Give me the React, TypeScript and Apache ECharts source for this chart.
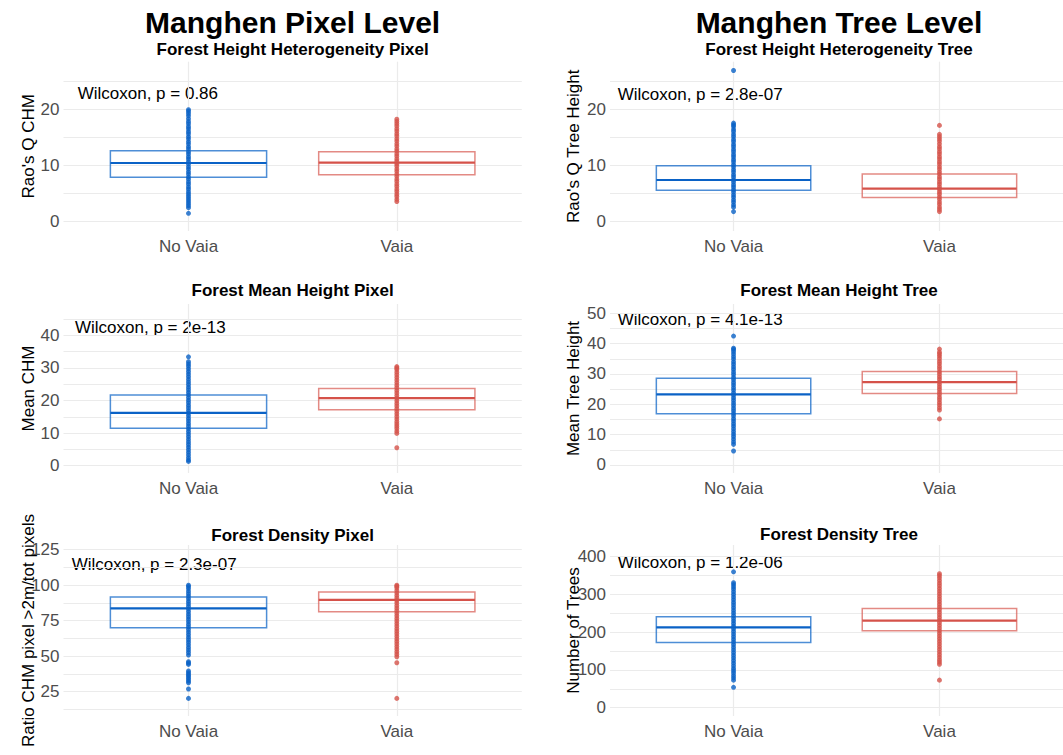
import { useEffect, useRef } from "react";
import * as echarts from "echarts";

const CATEGORIES = ["No Vaia", "Vaia"];
const GROUP_X = [1, 2];

// ---- Forest Height Heterogeneity Pixel (Rao's Q CHM)
const raoPixelNoVaia = [1.5, 2.5, 2.9, 3.3, 3.7, 4.1, 4.5, 4.9, 5.3, 5.8, 6.2, 6.7, 7.1, 7.6, 8.0, 8.5, 8.9, 9.4, 9.8, 10.3, 10.7, 11.2, 11.6, 12.1, 12.5, 13.0, 13.4, 13.9, 14.3, 14.8, 15.2, 15.7, 16.1, 16.6, 17.0, 17.5, 17.9, 18.4, 18.9, 19.3, 19.7, 20.0];
const raoPixelVaia = [3.6, 4.0, 4.5, 4.9, 5.4, 5.8, 6.3, 6.7, 7.2, 7.6, 8.1, 8.5, 9.0, 9.4, 9.9, 10.3, 10.8, 11.2, 11.7, 12.1, 12.6, 13.0, 13.5, 13.9, 14.4, 14.8, 15.3, 15.7, 16.2, 16.6, 17.1, 17.5, 17.9, 18.3];
const raoPixelBoxNoVaia = [7.93, 10.48, 12.68]; // Q1, median, Q3
const raoPixelBoxVaia = [8.39, 10.54, 12.5];

// ---- Forest Height Heterogeneity Tree (Rao's Q Tree Height)
const raoTreeNoVaia = [1.8, 2.6, 3.0, 3.5, 3.9, 4.4, 4.8, 5.3, 5.7, 6.2, 6.6, 7.1, 7.5, 8.0, 8.4, 8.9, 9.3, 9.8, 10.2, 10.7, 11.1, 11.6, 12.0, 12.5, 12.9, 13.4, 13.8, 14.3, 14.7, 15.2, 15.6, 16.1, 16.5, 17.0, 17.3, 17.6, 27.0];
const raoTreeVaia = [1.8, 2.2, 2.6, 3.1, 3.5, 4.0, 4.4, 4.9, 5.3, 5.8, 6.2, 6.7, 7.1, 7.6, 8.0, 8.5, 8.9, 9.4, 9.8, 10.3, 10.7, 11.2, 11.6, 12.1, 12.5, 13.0, 13.4, 13.9, 14.4, 14.8, 15.2, 15.6, 17.2];
const raoTreeBoxNoVaia = [5.6, 7.45, 10.0];
const raoTreeBoxVaia = [4.3, 5.9, 8.5];

// ---- Forest Mean Height Pixel (Mean CHM)
const meanPixelNoVaia = [1.3, 1.8, 2.5, 3.3, 4.1, 4.9, 5.7, 6.5, 7.3, 8.1, 8.9, 9.7, 10.5, 11.3, 12.1, 12.9, 13.7, 14.5, 15.3, 16.1, 16.9, 17.7, 18.5, 19.3, 20.1, 20.9, 21.7, 22.5, 23.3, 24.1, 24.9, 25.7, 26.5, 27.3, 28.1, 28.9, 29.7, 30.5, 31.2, 31.9, 33.4];
const meanPixelVaia = [5.5, 9.9, 10.6, 11.4, 12.1, 12.8, 13.5, 14.3, 15.1, 15.9, 16.7, 17.5, 18.3, 19.1, 19.9, 20.7, 21.5, 22.3, 23.1, 23.9, 24.7, 25.5, 26.3, 27.1, 27.9, 28.7, 29.5, 30.0, 30.4];
const meanPixelBoxNoVaia = [11.5, 16.2, 21.7];
const meanPixelBoxVaia = [17.2, 20.7, 23.7];

// ---- Forest Mean Height Tree (Mean Tree Height)
const meanTreeNoVaia = [4.6, 6.8, 7.6, 8.5, 9.4, 10.2, 11.0, 11.9, 12.8, 13.6, 14.5, 15.3, 16.2, 17.0, 17.9, 18.7, 19.6, 20.4, 21.3, 22.1, 23.0, 23.8, 24.7, 25.5, 26.4, 27.2, 28.1, 28.9, 29.8, 30.6, 31.5, 32.3, 33.2, 34.0, 34.9, 35.7, 36.6, 37.4, 38.1, 38.5, 42.5];
const meanTreeVaia = [15.2, 18.1, 18.9, 19.8, 20.6, 21.5, 22.3, 23.2, 24.0, 24.9, 25.7, 26.6, 27.4, 28.3, 29.1, 30.0, 30.8, 31.7, 32.5, 33.4, 34.2, 35.1, 35.9, 36.6, 37.2, 38.2];
const meanTreeBoxNoVaia = [16.9, 23.3, 28.6];
const meanTreeBoxVaia = [23.6, 27.3, 30.8];

// ---- Forest Density Pixel (Ratio CHM pixel >2m/tot pixels)
const densityPixelNoVaia = [20.3, 26.9, 31.3, 32.5, 33.7, 34.9, 36.1, 37.2, 38.4, 39.6, 44.2, 45.2, 46.1, 50.8, 52.6, 54.4, 56.2, 58.0, 59.8, 61.6, 63.4, 65.2, 67.0, 68.8, 70.6, 72.4, 74.2, 76.0, 77.8, 79.6, 81.4, 83.2, 85.0, 86.8, 88.6, 90.4, 92.2, 94.0, 95.8, 97.6, 99.0, 100.0];
const densityPixelVaia = [20.3, 45.4, 49.6, 51.4, 53.2, 55.0, 56.8, 58.6, 60.4, 62.2, 64.0, 65.8, 67.6, 69.4, 71.2, 73.0, 74.8, 76.6, 78.4, 80.2, 82.0, 83.8, 85.6, 87.4, 89.2, 91.0, 92.8, 94.6, 96.4, 98.2, 99.3, 100.0];
const densityPixelBoxNoVaia = [70.1, 83.7, 91.7];
const densityPixelBoxVaia = [81.3, 89.6, 95.2];

// ---- Forest Density Tree (Number of Trees)
const densityTreeNoVaia = [54, 73, 79, 85, 92, 98, 104, 111, 118, 125, 132, 139, 146, 153, 160, 167, 174, 181, 188, 195, 202, 209, 216, 223, 230, 237, 244, 251, 258, 265, 272, 279, 286, 293, 300, 307, 314, 320, 326, 331, 360];
const densityTreeVaia = [73, 115, 121, 127, 134, 141, 148, 155, 162, 169, 176, 183, 190, 197, 204, 211, 218, 225, 232, 239, 246, 253, 260, 267, 274, 281, 288, 295, 302, 309, 316, 323, 330, 337, 344, 350, 355];
const densityTreeBoxNoVaia = [173, 213, 241];
const densityTreeBoxVaia = [204, 230.5, 263];

// ---- Tick labels / grid values
const raoLabels = [0, 10, 20];
const raoGrid = [0, 5, 10, 15, 20, 25];
const meanPixelLabels = [0, 10, 20, 30, 40];
const meanPixelGrid = [0, 5, 10, 15, 20, 25, 30, 35, 40, 45];
const meanTreeLabels = [0, 10, 20, 30, 40, 50];
const meanTreeGrid = [0, 5, 10, 15, 20, 25, 30, 35, 40, 45, 50];
const densityPixelLabels = [25, 50, 75, 100, 125];
const densityPixelGrid = [12.5, 25, 37.5, 50, 62.5, 75, 87.5, 100, 112.5, 125];
const densityTreeLabels = [0, 100, 200, 300, 400];
const densityTreeGrid = [0, 50, 100, 150, 200, 250, 300, 350, 400];

const mainTitles = ["Manghen Pixel Level", "Manghen Tree Level"];
const subTitles = [
  "Forest Height Heterogeneity Pixel",
  "Forest Height Heterogeneity Tree",
  "Forest Mean Height Pixel",
  "Forest Mean Height Tree",
  "Forest Density Pixel",
  "Forest Density Tree",
];
const yTitles = [
  "Rao's Q CHM",
  "Rao's Q Tree Height",
  "Mean CHM",
  "Mean Tree Height",
  "Ratio CHM pixel >2m/tot pixels",
  "Number of Trees",
];
const pLabels = [
  "Wilcoxon, p = 0.86",
  "Wilcoxon, p = 2.8e-07",
  "Wilcoxon, p = 2e-13",
  "Wilcoxon, p = 4.1e-13",
  "Wilcoxon, p = 2.3e-07",
  "Wilcoxon, p = 1.2e-06",
];

const FONT = "'Liberation Sans', Arial, Helvetica, sans-serif";
const BLUE = "#0a62c6";
const BLUE_BOX = "rgba(10,98,198,0.72)";
const RED = "#d5524a";
const RED_BOX = "rgba(213,82,74,0.68)";
const BOX_HALF = 0.375;

const panels = [
  { layout: { left: 63.5, top: 61.7, width: 458.3, height: 169.3 }, yMin: -1.66, yMax: 28.57, labels: raoLabels, grid: raoGrid, nv: raoPixelNoVaia, va: raoPixelVaia, bnv: raoPixelBoxNoVaia, bva: raoPixelBoxVaia, sub: { x: 292.6, y: 49 }, yt: { x: 28, y: 146.3 }, pl: { x: 77.7, y: 93 } },
  { layout: { left: 610, top: 61.7, width: 458.3, height: 169.3 }, yMin: -1.66, yMax: 28.57, labels: raoLabels, grid: raoGrid, nv: raoTreeNoVaia, va: raoTreeVaia, bnv: raoTreeBoxNoVaia, bva: raoTreeBoxVaia, sub: { x: 839, y: 49 }, yt: { x: 573, y: 146.3 }, pl: { x: 617.7, y: 94.3 } },
  { layout: { left: 63.5, top: 304, width: 458.3, height: 169 }, yMin: -2.24, yMax: 49.6, labels: meanPixelLabels, grid: meanPixelGrid, nv: meanPixelNoVaia, va: meanPixelVaia, bnv: meanPixelBoxNoVaia, bva: meanPixelBoxVaia, sub: { x: 292.6, y: 290.4 }, yt: { x: 28, y: 388.5 }, pl: { x: 75, y: 327 } },
  { layout: { left: 610, top: 304, width: 458.3, height: 169 }, yMin: -2.64, yMax: 53.07, labels: meanTreeLabels, grid: meanTreeGrid, nv: meanTreeNoVaia, va: meanTreeVaia, bnv: meanTreeBoxNoVaia, bva: meanTreeBoxVaia, sub: { x: 839, y: 290.4 }, yt: { x: 573, y: 388.5 }, pl: { x: 617.7, y: 319.5 } },
  { layout: { left: 63.5, top: 545, width: 458.3, height: 171 }, yMin: 7.9, yMax: 128.3, labels: densityPixelLabels, grid: densityPixelGrid, nv: densityPixelNoVaia, va: densityPixelVaia, bnv: densityPixelBoxNoVaia, bva: densityPixelBoxVaia, sub: { x: 292.6, y: 535 }, yt: { x: 28, y: 630.5 }, pl: { x: 71.7, y: 564.7 } },
  { layout: { left: 610, top: 545, width: 458.3, height: 171 }, yMin: -22, yMax: 431, labels: densityTreeLabels, grid: densityTreeGrid, nv: densityTreeNoVaia, va: densityTreeVaia, bnv: densityTreeBoxNoVaia, bva: densityTreeBoxVaia, sub: { x: 839, y: 534.5 }, yt: { x: 573, y: 630.5 }, pl: { x: 617.7, y: 562.5 } },
];

function textEl(text: string, x: number, y: number, size: number, weight: string, align: string, rotation = 0) {
  return {
    type: "text",
    x,
    y,
    rotation,
    silent: true,
    style: {
      text,
      fontSize: size,
      fontWeight: weight,
      fontFamily: FONT,
      fill: "#000000",
      align,
      verticalAlign: "middle",
      textAlign: align,
      textVerticalAlign: "middle",
    },
  };
}

export default function App() {
  const ref = useRef<HTMLDivElement>(null);

  useEffect(() => {
    if (!ref.current) return;
    const chart = echarts.init(ref.current, undefined, { renderer: "svg" });

    const grids: any[] = [];
    const xAxes: any[] = [];
    const yAxes: any[] = [];
    const series: any[] = [];
    const graphics: any[] = [];

    panels.forEach((p, i) => {
      grids.push({ ...p.layout, containLabel: false });
      xAxes.push({
        type: "value",
        gridIndex: i,
        min: 0.4,
        max: 2.6,
        axisLine: { show: false },
        axisTick: { show: false, customValues: GROUP_X },
        axisLabel: {
          customValues: GROUP_X,
          formatter: (v: number) => CATEGORIES[Math.round(v) - 1] ?? "",
          fontSize: 17,
          fontFamily: FONT,
          color: "#4d4d4d",
          margin: 6.5,
        },
        splitLine: { show: true, lineStyle: { color: "#ebebeb", width: 1.2 } },
      });
      yAxes.push({
        type: "value",
        gridIndex: i,
        min: p.yMin,
        max: p.yMax,
        axisLine: { show: false },
        axisTick: { show: false, customValues: p.grid },
        axisLabel: {
          customValues: p.labels,
          fontSize: 17,
          fontFamily: FONT,
          color: "#4d4d4d",
          margin: 4,
        },
        splitLine: { show: true, lineStyle: { color: "#ebebeb", width: 1.2 } },
      });

      const boxes = [
        { x: GROUP_X[0], b: p.bnv, edge: BLUE_BOX, med: BLUE },
        { x: GROUP_X[1], b: p.bva, edge: RED_BOX, med: RED },
      ];
      series.push({
        type: "custom",
        xAxisIndex: i,
        yAxisIndex: i,
        silent: true,
        z: 2,
        encode: { x: 0, y: [1, 2, 3] },
        data: boxes.map((b) => [b.x, b.b[0], b.b[1], b.b[2]]),
        renderItem: (params: any, api: any) => {
          const x = api.value(0);
          const q1 = api.value(1);
          const med = api.value(2);
          const q3 = api.value(3);
          const info = boxes[params.dataIndex];
          const tl = api.coord([x - BOX_HALF, q3]);
          const br = api.coord([x + BOX_HALF, q1]);
          const m1 = api.coord([x - BOX_HALF, med]);
          const m2 = api.coord([x + BOX_HALF, med]);
          return {
            type: "group",
            children: [
              {
                type: "rect",
                shape: { x: tl[0], y: tl[1], width: br[0] - tl[0], height: br[1] - tl[1] },
                style: { fill: "none", stroke: info.edge, lineWidth: 1.5 },
              },
              {
                type: "line",
                shape: { x1: m1[0], y1: m1[1], x2: m2[0], y2: m2[1] },
                style: { stroke: info.med, lineWidth: 2.2 },
              },
            ],
          };
        },
      });
      series.push({
        type: "scatter",
        xAxisIndex: i,
        yAxisIndex: i,
        silent: true,
        z: 3,
        symbolSize: 5,
        itemStyle: { color: BLUE },
        data: p.nv.map((v) => [GROUP_X[0], v]),
      });
      series.push({
        type: "scatter",
        xAxisIndex: i,
        yAxisIndex: i,
        silent: true,
        z: 3,
        symbolSize: 5,
        itemStyle: { color: RED },
        data: p.va.map((v) => [GROUP_X[1], v]),
      });

      graphics.push(textEl(subTitles[i], p.sub.x, p.sub.y, 17, "bold", "center"));
      graphics.push(textEl(yTitles[i], p.yt.x, p.yt.y, 17, "normal", "center", Math.PI / 2));
      graphics.push(textEl(pLabels[i], p.pl.x, p.pl.y, 17, "normal", "left"));
    });

    graphics.push(textEl(mainTitles[0], 292.6, 22.5, 30, "bold", "center"));
    graphics.push(textEl(mainTitles[1], 839, 22.5, 30, "bold", "center"));

    chart.setOption({
      animation: false,
      backgroundColor: "#ffffff",
      grid: grids,
      xAxis: xAxes,
      yAxis: yAxes,
      series,
      graphic: { elements: graphics },
    });

    return () => chart.dispose();
  }, []);

  return (
    <div
      ref={ref}
      style={{ position: "fixed", left: 0, top: 0, width: 1063, height: 755, background: "#ffffff" }}
    />
  );
}
